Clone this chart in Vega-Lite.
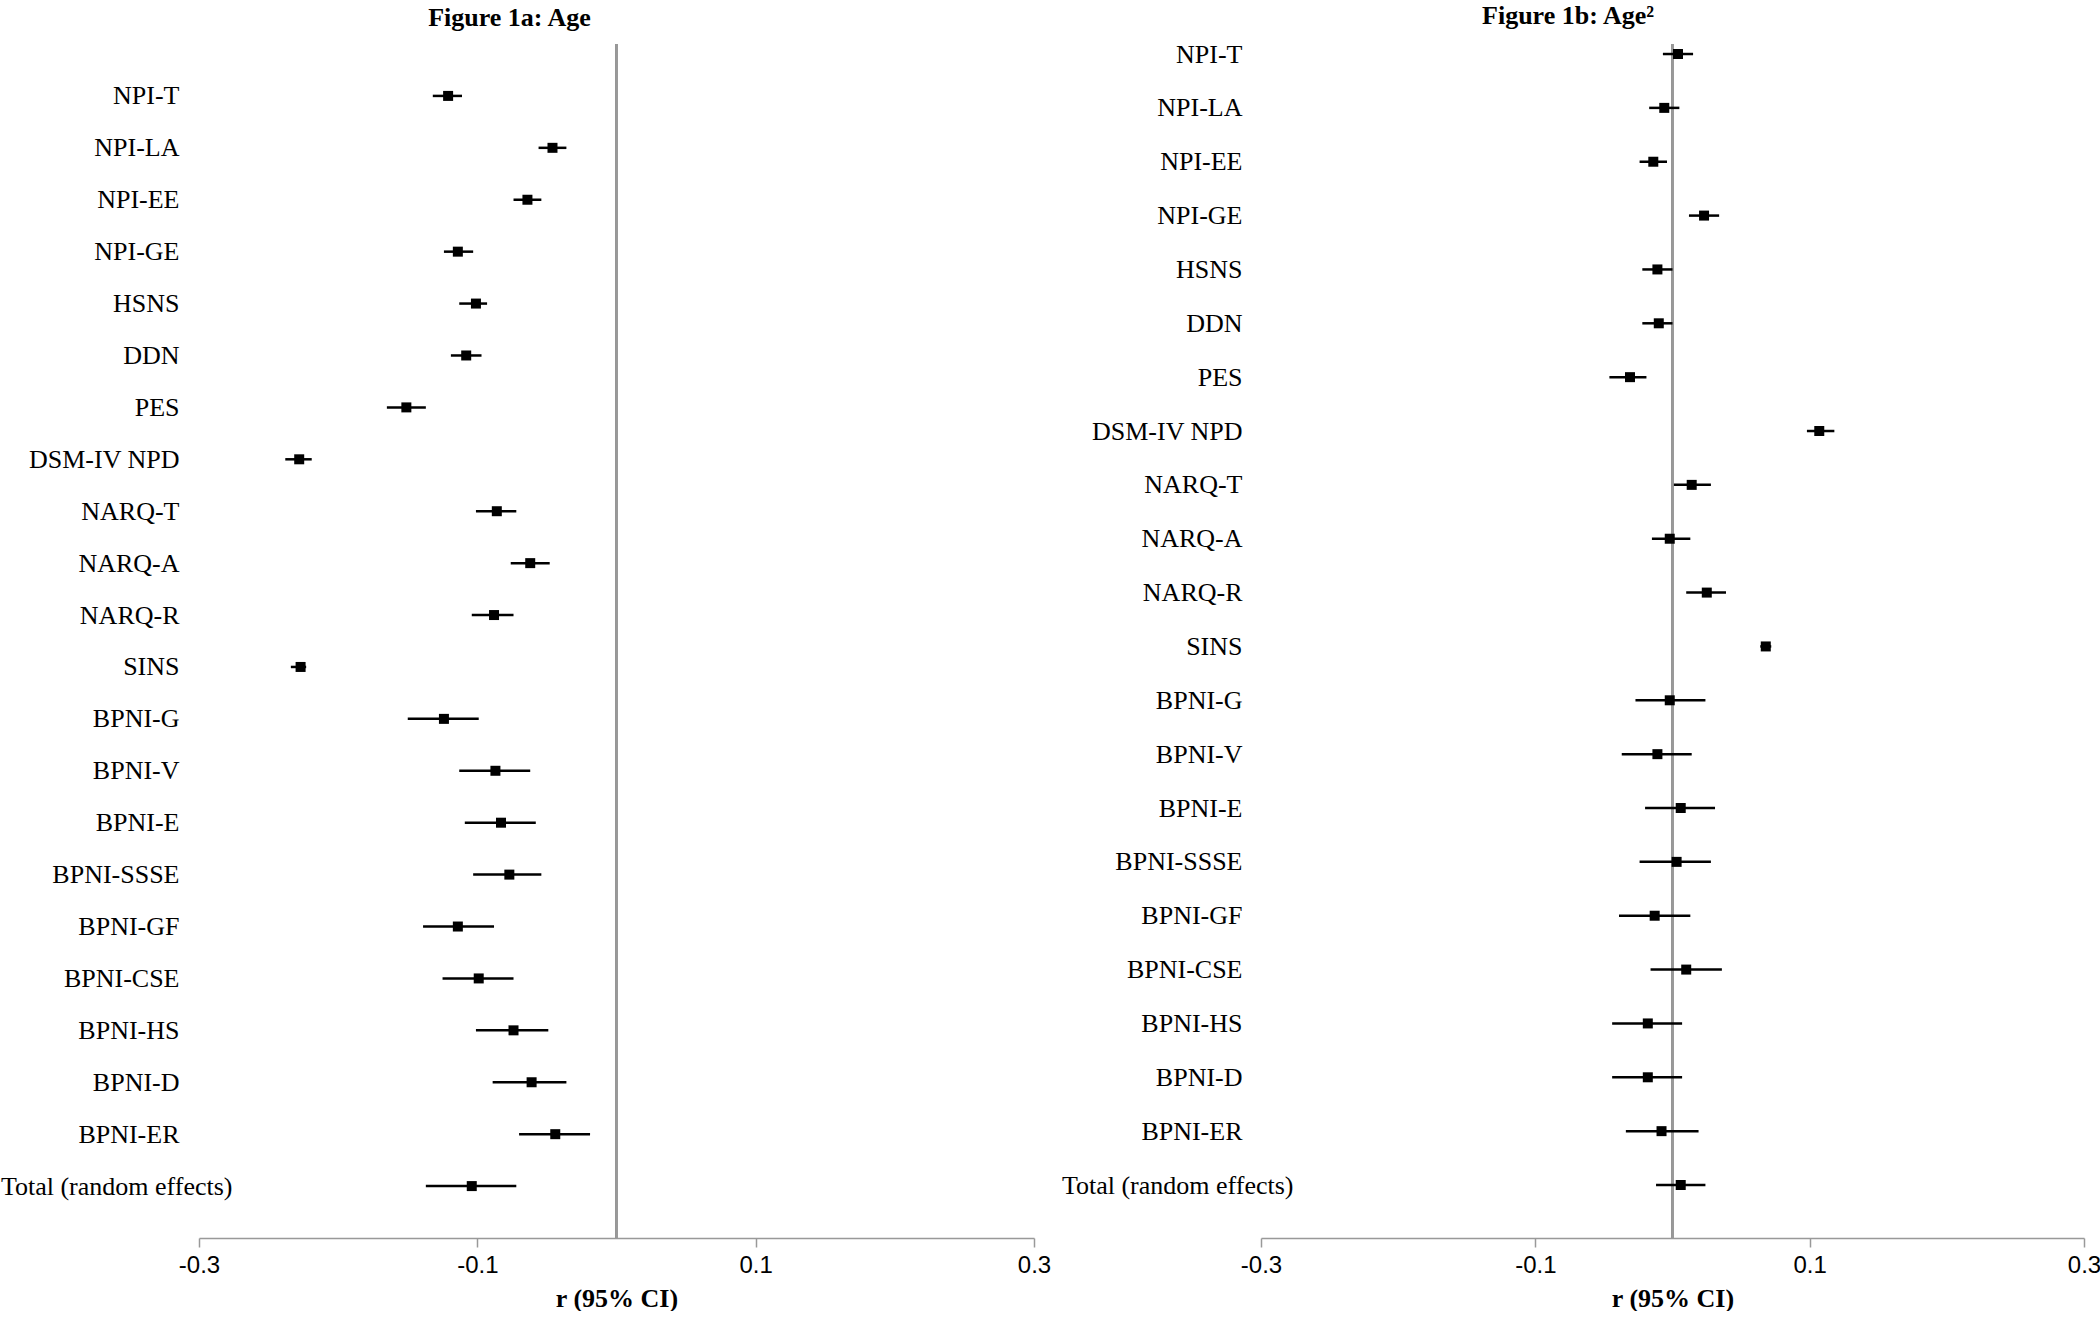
{
  "$schema": "https://vega.github.io/schema/vega-lite/v6.json",
  "padding": {"left": 0, "top": 3, "right": 0, "bottom": 0},
  "autosize": {"type": "pad"},
  "background": "white",
  "bounds": "flush",
  "spacing": 227,
  "config": {
    "view": {"stroke": null},
    "axis": {"grid": false},
    "title": {"font": "Liberation Serif", "fontSize": 26, "fontWeight": "bold", "color": "black", "anchor": "middle", "frame": "bounds", "offset": 12}
  },
  "datasets": {
    "age": [
      {"measure": "NPI-T", "r": -0.121, "lo": -0.132, "hi": -0.111},
      {"measure": "NPI-LA", "r": -0.046, "lo": -0.056, "hi": -0.036},
      {"measure": "NPI-EE", "r": -0.064, "lo": -0.074, "hi": -0.054},
      {"measure": "NPI-GE", "r": -0.114, "lo": -0.124, "hi": -0.103},
      {"measure": "HSNS", "r": -0.101, "lo": -0.113, "hi": -0.093},
      {"measure": "DDN", "r": -0.108, "lo": -0.119, "hi": -0.097},
      {"measure": "PES", "r": -0.151, "lo": -0.165, "hi": -0.137},
      {"measure": "DSM-IV NPD", "r": -0.228, "lo": -0.238, "hi": -0.219},
      {"measure": "NARQ-T", "r": -0.086, "lo": -0.101, "hi": -0.072},
      {"measure": "NARQ-A", "r": -0.062, "lo": -0.076, "hi": -0.048},
      {"measure": "NARQ-R", "r": -0.088, "lo": -0.104, "hi": -0.074},
      {"measure": "SINS", "r": -0.227, "lo": -0.234, "hi": -0.223},
      {"measure": "BPNI-G", "r": -0.124, "lo": -0.150, "hi": -0.099},
      {"measure": "BPNI-V", "r": -0.087, "lo": -0.113, "hi": -0.062},
      {"measure": "BPNI-E", "r": -0.083, "lo": -0.109, "hi": -0.058},
      {"measure": "BPNI-SSSE", "r": -0.077, "lo": -0.103, "hi": -0.054},
      {"measure": "BPNI-GF", "r": -0.114, "lo": -0.139, "hi": -0.088},
      {"measure": "BPNI-CSE", "r": -0.099, "lo": -0.125, "hi": -0.074},
      {"measure": "BPNI-HS", "r": -0.074, "lo": -0.101, "hi": -0.049},
      {"measure": "BPNI-D", "r": -0.061, "lo": -0.089, "hi": -0.036},
      {"measure": "BPNI-ER", "r": -0.044, "lo": -0.070, "hi": -0.019},
      {"measure": "Total (random effects)", "r": -0.104, "lo": -0.137, "hi": -0.072}
    ],
    "age2": [
      {"measure": "NPI-T", "r": 0.004, "lo": -0.007, "hi": 0.015},
      {"measure": "NPI-LA", "r": -0.006, "lo": -0.017, "hi": 0.005},
      {"measure": "NPI-EE", "r": -0.014, "lo": -0.024, "hi": -0.004},
      {"measure": "NPI-GE", "r": 0.023, "lo": 0.012, "hi": 0.034},
      {"measure": "HSNS", "r": -0.011, "lo": -0.022, "hi": 0.000},
      {"measure": "DDN", "r": -0.010, "lo": -0.022, "hi": 0.000},
      {"measure": "PES", "r": -0.031, "lo": -0.046, "hi": -0.019},
      {"measure": "DSM-IV NPD", "r": 0.107, "lo": 0.098, "hi": 0.118},
      {"measure": "NARQ-T", "r": 0.014, "lo": 0.001, "hi": 0.028},
      {"measure": "NARQ-A", "r": -0.002, "lo": -0.015, "hi": 0.013},
      {"measure": "NARQ-R", "r": 0.025, "lo": 0.010, "hi": 0.039},
      {"measure": "SINS", "r": 0.068, "lo": 0.064, "hi": 0.072},
      {"measure": "BPNI-G", "r": -0.002, "lo": -0.027, "hi": 0.024},
      {"measure": "BPNI-V", "r": -0.011, "lo": -0.037, "hi": 0.014},
      {"measure": "BPNI-E", "r": 0.006, "lo": -0.020, "hi": 0.031},
      {"measure": "BPNI-SSSE", "r": 0.003, "lo": -0.024, "hi": 0.028},
      {"measure": "BPNI-GF", "r": -0.013, "lo": -0.039, "hi": 0.013},
      {"measure": "BPNI-CSE", "r": 0.010, "lo": -0.016, "hi": 0.036},
      {"measure": "BPNI-HS", "r": -0.018, "lo": -0.044, "hi": 0.007},
      {"measure": "BPNI-D", "r": -0.018, "lo": -0.044, "hi": 0.007},
      {"measure": "BPNI-ER", "r": -0.008, "lo": -0.034, "hi": 0.019},
      {"measure": "Total (random effects)", "r": 0.006, "lo": -0.012, "hi": 0.024}
    ]
  },
  "hconcat": [
    {
      "title": {"text": "Figure 1a: Age", "dx": -16},
      "width": 835,
      "height": 1194,
      "data": {"name": "age"},
      "encoding": {
        "y": {
          "field": "measure", "type": "nominal",
          "scale": {"type": "point", "padding": 1, "align": 0.5,
            "domain": ["NPI-T","NPI-LA","NPI-EE","NPI-GE","HSNS","DDN","PES","DSM-IV NPD","NARQ-T","NARQ-A","NARQ-R","SINS","BPNI-G","BPNI-V","BPNI-E","BPNI-SSSE","BPNI-GF","BPNI-CSE","BPNI-HS","BPNI-D","BPNI-ER","Total (random effects)"]},
          "axis": {"title": null, "domain": false, "ticks": false, "labelFont": "Liberation Serif", "labelFontSize": 26, "labelColor": "black", "labelAlign": "right", "labelBaseline": "middle", "labelLimit": 0,
            "labelPadding": {"condition": {"test": "datum.value === 'Total (random effects)'", "value": -33}, "value": 20}}
        }
      },
      "layer": [
        {
          "mark": {"type": "rule", "color": "#999999", "strokeWidth": 1.3},
          "encoding": {"x": {"datum": 0, "type": "quantitative"}, "y": null}
        },
        {
          "mark": {"type": "rule", "color": "black", "strokeWidth": 2.5},
          "encoding": {
            "x": {"field": "lo", "type": "quantitative",
              "scale": {"domain": [-0.3, 0.3], "nice": false, "zero": false},
              "axis": {"values": [-0.3, -0.1, 0.1, 0.3], "format": ".1f", "labelExpr": "replace(datum.label, '\u2212', '-')", "title": "r (95% CI)", "domainColor": "#999999", "domainWidth": 1.5, "tickColor": "#999999", "tickWidth": 1.5, "tickSize": 9, "labelFont": "Liberation Sans", "labelFontSize": 24, "labelColor": "black", "labelPadding": 6, "labelFlush": false, "titleFont": "Liberation Serif", "titleFontSize": 26, "titleFontWeight": "bold", "titleColor": "black", "titlePadding": 8}},
            "x2": {"field": "hi"}
          }
        },
        {
          "mark": {"type": "square", "color": "black", "filled": true, "opacity": 1, "size": 100},
          "encoding": {"x": {"field": "r", "type": "quantitative"}}
        }
      ]
    },
    {
      "title": {"text": "Figure 1b: Age\u00b2", "dx": -13},
      "width": 823,
      "height": 1194,
      "data": {"name": "age2"},
      "encoding": {
        "y": {
          "field": "measure", "type": "nominal",
          "scale": {"type": "point", "padding": 0.585, "align": 0.159,
            "domain": ["NPI-T","NPI-LA","NPI-EE","NPI-GE","HSNS","DDN","PES","DSM-IV NPD","NARQ-T","NARQ-A","NARQ-R","SINS","BPNI-G","BPNI-V","BPNI-E","BPNI-SSSE","BPNI-GF","BPNI-CSE","BPNI-HS","BPNI-D","BPNI-ER","Total (random effects)"]},
          "axis": {"title": null, "domain": false, "ticks": false, "labelFont": "Liberation Serif", "labelFontSize": 26, "labelColor": "black", "labelAlign": "right", "labelBaseline": "middle", "labelLimit": 0,
            "labelPadding": {"condition": {"test": "datum.value === 'Total (random effects)'", "value": -32}, "value": 19}}
        }
      },
      "layer": [
        {
          "mark": {"type": "rule", "color": "#999999", "strokeWidth": 1.3},
          "encoding": {"x": {"datum": 0, "type": "quantitative"}, "y": null}
        },
        {
          "mark": {"type": "rule", "color": "black", "strokeWidth": 2.5},
          "encoding": {
            "x": {"field": "lo", "type": "quantitative",
              "scale": {"domain": [-0.3, 0.3], "nice": false, "zero": false},
              "axis": {"values": [-0.3, -0.1, 0.1, 0.3], "format": ".1f", "labelExpr": "replace(datum.label, '\u2212', '-')", "title": "r (95% CI)", "domainColor": "#999999", "domainWidth": 1.5, "tickColor": "#999999", "tickWidth": 1.5, "tickSize": 9, "labelFont": "Liberation Sans", "labelFontSize": 24, "labelColor": "black", "labelPadding": 6, "labelFlush": false, "titleFont": "Liberation Serif", "titleFontSize": 26, "titleFontWeight": "bold", "titleColor": "black", "titlePadding": 8}},
            "x2": {"field": "hi"}
          }
        },
        {
          "mark": {"type": "square", "color": "black", "filled": true, "opacity": 1, "size": 100},
          "encoding": {"x": {"field": "r", "type": "quantitative"}}
        }
      ]
    }
  ]
}
